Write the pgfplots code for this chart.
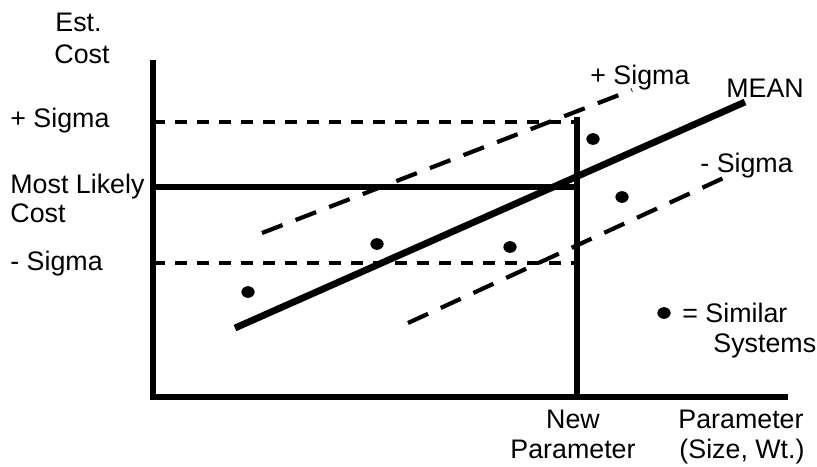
\documentclass[border=0pt]{standalone}
\usepackage{fontspec}
\setmainfont{Liberation Sans}
\usepackage{pgfplots}
\pgfplotsset{compat=1.18}
\tikzset{lbl/.style={font=\fontsize{13.4}{15}\selectfont, inner sep=0pt, anchor=base west},
         lblc/.style={font=\fontsize{13.4}{15}\selectfont, inner sep=0pt, anchor=base}}
\begin{document}
\begin{tikzpicture}
\begin{axis}[width=408.5pt,height=233pt,scale only axis,
  xmin=0,xmax=817,ymin=0,ymax=466,y dir=reverse,hide axis,clip=false]
\path (axis cs:0,0) rectangle (axis cs:817,466);
% frame axes
\addplot[black,line width=2.8pt,no marks,line join=miter] coordinates {(153,60) (153,397) (788,397)};
% new parameter vertical
\addplot[black,line width=2.6pt,no marks] coordinates {(577,117) (577,397)};
% most likely cost
\addplot[black,line width=2.6pt,no marks] coordinates {(153,187) (577,187)};
% sigma horizontals
\addplot[black,line width=1.8pt,no marks,dash pattern=on 6pt off 5pt] coordinates {(153,122) (577,122)};
\addplot[black,line width=1.8pt,no marks,dash pattern=on 6pt off 5pt] coordinates {(153,263) (577,263)};
% mean
\addplot[black,line width=3.4pt,no marks] coordinates {(235,328) (745,102)};
% sigma bands
\addplot[black,line width=2.1pt,no marks,dash pattern=on 11pt off 7pt] coordinates {(262,233) (632,90)};
\addplot[black,line width=2.1pt,no marks,dash pattern=on 11pt off 7pt] coordinates {(408,323) (730,175)};
% similar systems
\addplot[only marks,mark=*,mark size=2.7pt,mark options={xscale=1.15,black}] coordinates {(248,292) (377,244) (510,247) (593,139) (622,197) (664,313)};
% labels
\node[lbl] at (axis cs:55,32) {Est.};
\node[lbl] at (axis cs:54,63) {Cost};
\node[lbl] at (axis cs:10,127) {+ Sigma};
\node[lbl] at (axis cs:10,193) {Most Likely};
\node[lbl] at (axis cs:10,222) {Cost};
\node[lbl] at (axis cs:10,270) {- Sigma};
\node[lbl] at (axis cs:590,84) {+ Sigma};
\node[lbl] at (axis cs:726,97) {MEAN};
\node[lbl] at (axis cs:700,172) {- Sigma};
\node[lbl] at (axis cs:682,322) {= Similar};
\node[lbl] at (axis cs:713,352) {Systems};
\node[lblc] at (axis cs:573,428) {New};
\node[lblc] at (axis cs:573,458) {Parameter};
\node[lblc] at (axis cs:741,428) {Parameter};
\node[lblc] at (axis cs:742,458) {(Size, Wt.)};
\end{axis}
\end{tikzpicture}
\end{document}
